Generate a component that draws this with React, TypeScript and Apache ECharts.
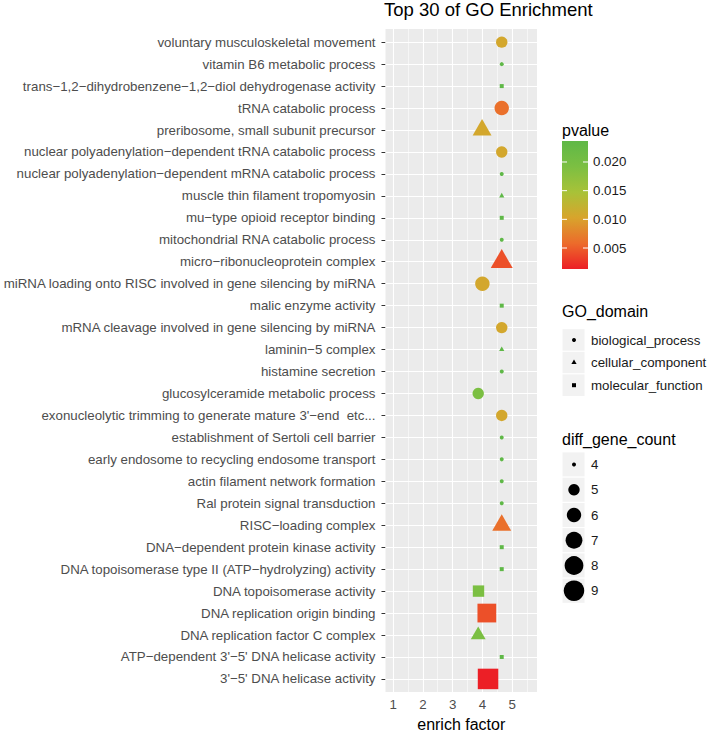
import React, { useEffect, useRef } from "react";
import * as echarts from "echarts";

// ---- data (top to bottom as shown) ----
const TERMS = [
  "voluntary musculoskeletal movement",
  "vitamin B6 metabolic process",
  "trans−1,2−dihydrobenzene−1,2−diol dehydrogenase activity",
  "tRNA catabolic process",
  "preribosome, small subunit precursor",
  "nuclear polyadenylation−dependent tRNA catabolic process",
  "nuclear polyadenylation−dependent mRNA catabolic process",
  "muscle thin filament tropomyosin",
  "mu−type opioid receptor binding",
  "mitochondrial RNA catabolic process",
  "micro−ribonucleoprotein complex",
  "miRNA loading onto RISC involved in gene silencing by miRNA",
  "malic enzyme activity",
  "mRNA cleavage involved in gene silencing by miRNA",
  "laminin−5 complex",
  "histamine secretion",
  "glucosylceramide metabolic process",
  "exonucleolytic trimming to generate mature 3'−end  etc...",
  "establishment of Sertoli cell barrier",
  "early endosome to recycling endosome transport",
  "actin filament network formation",
  "Ral protein signal transduction",
  "RISC−loading complex",
  "DNA−dependent protein kinase activity",
  "DNA topoisomerase type II (ATP−hydrolyzing) activity",
  "DNA topoisomerase activity",
  "DNA replication origin binding",
  "DNA replication factor C complex",
  "ATP−dependent 3'−5' DNA helicase activity",
  "3'−5' DNA helicase activity",
];
const ENRICH = [
  4.65, 4.65, 4.65, 4.65, 3.99, 4.65, 4.65, 4.65, 4.65, 4.65,
  4.65, 4.0, 4.65, 4.65, 4.65, 4.65, 3.86, 4.65, 4.65, 4.65,
  4.65, 4.65, 4.65, 4.65, 4.65, 3.87, 4.15, 3.86, 4.65, 4.19,
];
const COUNT = [
  5, 4, 4, 6, 6, 5, 4, 4, 4, 4,
  7, 6, 4, 5, 4, 4, 5, 5, 4, 4,
  4, 4, 6, 4, 4, 5, 8, 5, 4, 9,
];
const PVALUE = [
  0.0107, 0.0237, 0.0237, 0.0062, 0.0107, 0.0107, 0.0237, 0.0237, 0.0237, 0.0237,
  0.0042, 0.0107, 0.0237, 0.0107, 0.0237, 0.0237, 0.0193, 0.0107, 0.0237, 0.0237,
  0.0237, 0.0237, 0.0062, 0.0237, 0.0237, 0.0193, 0.0042, 0.0193, 0.0237, 0.00134,
];
const DOMAIN = [
  "biological_process", "biological_process", "molecular_function", "biological_process", "cellular_component",
  "biological_process", "biological_process", "cellular_component", "molecular_function", "biological_process",
  "cellular_component", "biological_process", "molecular_function", "biological_process", "cellular_component",
  "biological_process", "biological_process", "biological_process", "biological_process", "biological_process",
  "biological_process", "biological_process", "cellular_component", "molecular_function", "molecular_function",
  "molecular_function", "molecular_function", "cellular_component", "molecular_function", "molecular_function",
];
const DOMAINS = ["biological_process", "cellular_component", "molecular_function"];
const X_TICKS = [1, 2, 3, 4, 5];
const X_MINOR = [1.5, 2.5, 3.5, 4.5, 5.5];
const PV_TICKS = [0.005, 0.01, 0.015, 0.02];
const PV_LABELS = ["0.005", "0.010", "0.015", "0.020"];
const COUNT_LEVELS = [4, 5, 6, 7, 8, 9];
const PV_MIN = 0.00134;
const PV_MAX = 0.02366;

// ---- styling ----
const FONT = '"Liberation Sans", Arial, Helvetica, sans-serif';
const COLORS = ["#EC1F26", "#EC6B2B", "#D8A42C", "#A8C238", "#7CBF42", "#5FB847"];
const SYMBOLS = ["circle", "triangle", "rect"];

const dia = (c: number) => 3.3 * (1 + 5 * Math.sqrt((c - 4) / 5)) + 0.7;

export default function App() {
  const ref = useRef<HTMLDivElement>(null);

  useEffect(() => {
    if (!ref.current) return;
    const chart = echarts.init(ref.current, undefined, { renderer: "svg" });
    const n = TERMS.length;
    const yLabels = TERMS.slice().reverse();

    const gridLines: any[] = [];
    X_TICKS.forEach((v) => gridLines.push({ xAxis: v, lineStyle: { color: "#ffffff", width: 1.1, type: "solid" } }));
    X_MINOR.forEach((v) => gridLines.push({ xAxis: v, lineStyle: { color: "#ffffff", width: 0.55, type: "solid" } }));
    for (let i = 0; i < n; i++) gridLines.push({ yAxis: i, lineStyle: { color: "#ffffff", width: 1.1, type: "solid" } });

    const series: any[] = [
      {
        type: "scatter",
        name: "grid",
        data: [],
        z: 1,
        silent: true,
        markLine: { silent: true, z: 1, symbol: ["none", "none"], label: { show: false }, data: gridLines, animation: false },
      },
    ];
    DOMAINS.forEach((d, k) => {
      const data: any[] = [];
      for (let i = 0; i < n; i++) {
        if (DOMAIN[i] !== d) continue;
        const D = dia(COUNT[i]);
        const item: any = { value: [ENRICH[i], n - 1 - i, PVALUE[i], COUNT[i]] };
        if (k === 1) {
          const w = 1.31 * D;
          const h = w * 0.866;
          item.symbolSize = [w, h];
          item.symbolOffset = [0, -0.167 * h];
        } else {
          item.symbolSize = D;
        }
        data.push(item);
      }
      series.push({ type: "scatter", name: d, symbol: SYMBOLS[k], z: 10, data, itemStyle: { opacity: 1 } });
    });

    // legends (graphic)
    const g: any[] = [];
    const txt = (text: string, x: number, y: number, size: number, color = "#1A1A1A") => ({
      type: "text",
      x,
      y,
      style: { text, fontSize: size, fontFamily: FONT, fill: color, align: "left", verticalAlign: "middle" },
    });
    // pvalue colorbar
    const cbX = 562, cbY = 141, cbW = 26, cbH = 128;
    g.push(txt("pvalue", 562, 130, 16, "#000"));
    g.push({
      type: "rect",
      shape: { x: cbX, y: cbY, width: cbW, height: cbH },
      style: {
        fill: new echarts.graphic.LinearGradient(0, 0, 0, 1,
          COLORS.slice().reverse().map((c, i) => ({ offset: i / (COLORS.length - 1), color: c }))),
      },
    });
    PV_TICKS.forEach((v, i) => {
      const y = cbY + ((PV_MAX - v) / (PV_MAX - PV_MIN)) * cbH;
      g.push({ type: "line", shape: { x1: cbX, y1: y, x2: cbX + 5, y2: y }, style: { stroke: "#fff", lineWidth: 1 } });
      g.push({ type: "line", shape: { x1: cbX + cbW - 5, y1: y, x2: cbX + cbW, y2: y }, style: { stroke: "#fff", lineWidth: 1 } });
      g.push(txt(PV_LABELS[i], 593, y, 13.3));
    });
    // GO_domain
    g.push(txt("GO_domain", 562, 311, 16, "#000"));
    const goY = [340, 362.6, 385.2];
    DOMAINS.forEach((d, k) => {
      const cy = goY[k];
      g.push({ type: "rect", shape: { x: 562, y: cy - 11.3, width: 23, height: 22.6 }, style: { fill: "#F2F2F2", stroke: "#fff", lineWidth: 1 } });
      const D = dia(4);
      if (k === 0) g.push({ type: "circle", shape: { cx: 574, cy, r: D / 2 }, style: { fill: "#000" } });
      else if (k === 1) {
        const w = 1.31 * D, h = w * 0.866, off = 0.167 * h;
        g.push({ type: "polygon", shape: { points: [[574, cy - h / 2 - off], [574 + w / 2, cy + h / 2 - off], [574 - w / 2, cy + h / 2 - off]] }, style: { fill: "#000" } });
      } else g.push({ type: "rect", shape: { x: 574 - D / 2, y: cy - D / 2, width: D, height: D }, style: { fill: "#000" } });
      g.push(txt(d, 591, cy, 13.3));
    });
    // diff_gene_count
    g.push(txt("diff_gene_count", 562, 439, 16, "#000"));
    COUNT_LEVELS.forEach((c, i) => {
      const cy = 464.5 + i * 25.25;
      g.push({ type: "rect", shape: { x: 562, y: cy - 12.6, width: 23, height: 25.2 }, style: { fill: "#F2F2F2", stroke: "#fff", lineWidth: 1 } });
      g.push({ type: "circle", shape: { cx: 574, cy, r: dia(c) / 2 }, style: { fill: "#000" } });
      g.push(txt(String(c), 591, cy, 13.3));
    });

    chart.setOption({
      animation: false,
      backgroundColor: "#ffffff",
      title: {
        text: "Top 30 of GO Enrichment",
        left: 384,
        top: 0,
        padding: 0,
        textStyle: { fontSize: 18.5, fontWeight: "normal", color: "#000", fontFamily: FONT },
      },
      grid: {
        left: 383,
        right: 172,
        top: 29,
        bottom: 39,
        show: true,
        backgroundColor: "#EBEBEB",
        borderWidth: 0,
        containLabel: false,
      },
      xAxis: {
        type: "value",
        min: 0.745,
        max: 5.835,
        name: "enrich factor",
        nameLocation: "middle",
        nameGap: 23,
        nameTextStyle: { fontSize: 16, color: "#000", fontFamily: FONT },
        axisLine: { show: false },
        axisTick: { show: true, length: 4, lineStyle: { color: "#333333", width: 1 }, customValues: X_TICKS },
        axisLabel: { fontSize: 13.3, color: "#4D4D4D", fontFamily: FONT, margin: 6, customValues: X_TICKS },
        splitLine: { show: false },
      },
      yAxis: {
        type: "value",
        min: -0.6,
        max: n - 1 + 0.6,
        axisLine: { show: false },
        axisTick: { show: true, length: 4, lineStyle: { color: "#333333", width: 1 }, customValues: yLabels.map((_, i) => i) },
        axisLabel: {
          fontSize: 13.3,
          color: "#4D4D4D",
          fontFamily: FONT,
          margin: 10,
          customValues: yLabels.map((_, i) => i),
          formatter: (v: number) => yLabels[Math.round(v)] ?? "",
        },
        splitLine: { show: false },
      },
      visualMap: {
        type: "continuous",
        show: false,
        dimension: 2,
        min: PV_MIN,
        max: PV_MAX,
        seriesIndex: [1, 2, 3],
        inRange: { color: COLORS },
      },
      graphic: g,
      series,
    });
    return () => chart.dispose();
  }, []);

  return <div ref={ref} style={{ position: "fixed", left: 0, top: 0, width: 709, height: 737 }} />;
}
